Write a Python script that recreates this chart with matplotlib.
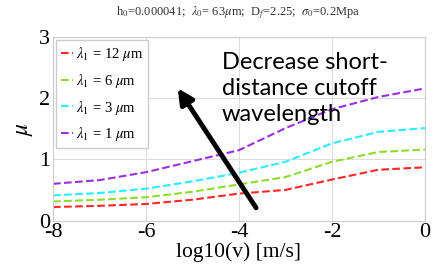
import numpy as np
import matplotlib.pyplot as plt

# data
logv = [-8, -7, -6, -5, -4, -3, -2, -1, 0]
mu_12 = [0.22, 0.24, 0.27, 0.34, 0.44, 0.50, 0.67, 0.83, 0.87]
mu_6 = [0.31, 0.34, 0.38, 0.47, 0.59, 0.71, 0.96, 1.12, 1.16]
mu_3 = [0.41, 0.45, 0.52, 0.64, 0.78, 0.96, 1.26, 1.45, 1.51]
mu_1 = [0.60, 0.66, 0.79, 0.97, 1.15, 1.51, 1.82, 2.02, 2.16]
labels = [r'$\lambda_1$ = 12 $\mu$m', r'$\lambda_1$ = 6 $\mu$m',
          r'$\lambda_1$ = 3 $\mu$m', r'$\lambda_1$ = 1 $\mu$m']
colors = ['#ff2828', '#8fdc2a', '#28eeff', '#9a30dd']

plt.rcParams['font.family'] = 'Liberation Serif'
plt.rcParams['mathtext.fontset'] = 'stix'
plt.rcParams['axes.unicode_minus'] = False

fig = plt.figure(figsize=(4.46, 2.76), dpi=100)
ax = fig.add_axes([53/446, 1 - 220.5/276, (425-53)/446, (220.5-37)/276])

for y, lab, c in zip([mu_12, mu_6, mu_3, mu_1], labels, colors):
    ax.plot(logv, y, '--', color=c, lw=1.5, label=lab)

ax.set_xlim(-8, 0)
ax.set_ylim(0, 3)
ax.set_xticks([-8, -6, -4, -2, 0])
ax.set_yticks([0, 1, 2, 3])
ax.grid(True, color='#dddddd', lw=0.8)
for s in ax.spines.values():
    s.set_color('#cccccc')
ax.tick_params(length=0, labelsize=16, pad=2)
ax.set_xlabel('log10(v) [m/s]', fontsize=15.5, labelpad=0)
ax.set_ylabel(r'$\mu$', fontsize=17, labelpad=3)

leg = ax.legend(loc='upper left', fontsize=10.5, handlelength=0.8, handletextpad=0.2,
                borderaxespad=0.2, borderpad=0.35, labelspacing=0.6,
                fancybox=False, edgecolor='#cccccc', framealpha=1)

ax.annotate('', xy=(-5.35, 2.2), xytext=(-3.6, 0.17),
            arrowprops=dict(arrowstyle='-|>,head_length=0.9,head_width=0.45',
                            color='black', lw=3.5))
ax.text(-4.37, 2.76, 'Decrease short-\ndistance cutoff\nwavelength',
        fontsize=17, family='Lato', va='top', ha='left', linespacing=1.3)

fig.text(0.533, 0.953, r'h$_0$=0.000041;  $\lambda_0$= 63$\mu$m;  D$_f$=2.25;  $\sigma_0$=0.2Mpa',
         fontsize=9, ha='center', va='center', color='#333333')

fig.savefig('out.png', dpi=100)
